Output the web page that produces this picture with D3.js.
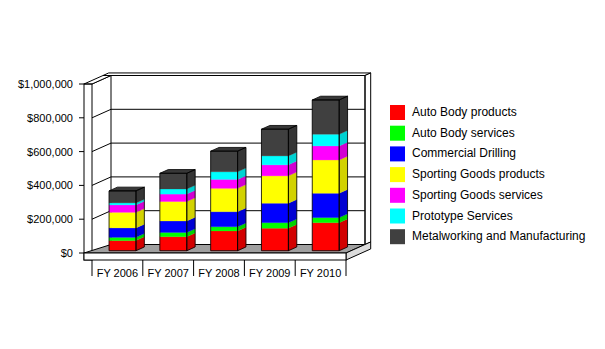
<!DOCTYPE html>
<html>
<head>
<meta charset="utf-8">
<script src="https://cdn.jsdelivr.net/npm/d3@7"></script>
<style>
  html, body { margin: 0; padding: 0; background: #fff; }
  svg { display: block; font-family: "Liberation Sans", Arial, sans-serif; }
</style>
</head>
<body>
<svg id="chart" width="605" height="349"></svg>
<script>
// ---- data ----
const categories = ["FY 2006", "FY 2007", "FY 2008", "FY 2009", "FY 2010"];
const seriesNames = ["Auto Body products", "Auto Body services", "Commercial Drilling",
  "Sporting Goods products", "Sporting Goods services", "Prototype Services",
  "Metalworking and Manufacturing"];
const seriesColors = ["#ff0000", "#00ff00", "#0000ff", "#ffff00", "#ff00ff", "#00ffff", "#404040"];
const autoBodyProducts      = [60000, 83000, 117000, 133000, 166000];
const autoBodyServices      = [19000, 25000, 25000, 33000, 30000];
const commercialDrilling    = [56000, 68000, 89000, 115000, 144000];
const sportingGoodsProducts = [92000, 115000, 138000, 162000, 197000];
const sportingGoodsServices = [44000, 44000, 53000, 65000, 83000];
const prototypeServices     = [12000, 30000, 45000, 53000, 69000];
const metalworking          = [71000, 93000, 122000, 158000, 203000];
const yTicks = [0, 200000, 400000, 600000, 800000, 1000000];

const seriesValues = [autoBodyProducts, autoBodyServices, commercialDrilling,
  sportingGoodsProducts, sportingGoodsServices, prototypeServices, metalworking];

// ---- layout ----
const svg = d3.select("#chart");
const DX = 19, DY = -8.5;          // full depth offset
const wallOuter = 84, plotL = 92, plotR = 346;
const floorY = 253, floorB = 260;

const y = d3.scaleLinear().domain([0, 1000000]).range([floorY, 84]);
const x = d3.scaleBand().domain(categories).range([plotL, plotR]);
const P = (u, v, d) => [u + d * DX, v + d * DY];
const poly = pts => pts.map(p => p.join(",")).join(" ");

const topV = y(1000000);
const g = svg.append("g");

// back wall (front face at depth 1, thickness 0.3)
const bw = 1.3;
g.append("polygon").attr("points", poly([P(wallOuter, topV, 1), P(plotR, topV, 1), P(plotR, topV, bw), P(wallOuter, topV, bw)]))
  .attr("fill", "#fff").attr("stroke", "#000").attr("stroke-width", 1);
g.append("polygon").attr("points", poly([P(plotR, topV, 1), P(plotR, topV, bw), P(plotR, floorY, bw), P(plotR, floorY, 1)]))
  .attr("fill", "#fff").attr("stroke", "#000").attr("stroke-width", 1);

// gridlines (left inner wall + back wall)
yTicks.forEach(t => {
  const a = P(plotL, y(t), 0), b = P(plotL, y(t), 1), c = P(plotR, y(t), 1);
  g.append("polyline").attr("points", poly([a, b, c]))
    .attr("fill", "none").attr("stroke", "#000").attr("stroke-width", 1);
});
// back inner left edge
g.append("line").attr("x1", P(plotL, topV, 1)[0]).attr("y1", P(plotL, topV, 1)[1])
  .attr("x2", P(plotL, floorY, 1)[0]).attr("y2", P(plotL, floorY, 1)[1]).attr("stroke", "#000");
g.append("line").attr("x1", P(plotR, topV, 1)[0]).attr("y1", P(plotR, topV, 1)[1])
  .attr("x2", P(plotR, floorY, 1)[0]).attr("y2", P(plotR, floorY, 1)[1]).attr("stroke", "#000");

// left wall: top face + front face
g.append("polygon").attr("points", poly([P(wallOuter, topV, 0), P(plotL, topV, 0), P(plotL, topV, 1), P(wallOuter, topV, 1)]))
  .attr("fill", "#fff").attr("stroke", "#000");
g.append("rect").attr("x", wallOuter).attr("y", topV).attr("width", plotL - wallOuter).attr("height", floorB - topV)
  .attr("fill", "none").attr("stroke", "#000");

// floor
g.append("polygon").attr("points", poly([P(wallOuter, floorY, 0), P(plotR, floorY, 0), P(plotR, floorY, 1), P(plotL, floorY, 1)]))
  .attr("fill", "#a0a0a0").attr("stroke", "#000");
g.append("polygon").attr("points", poly([P(plotR, floorY, 0), P(plotR, floorY, bw), P(plotR, floorB, bw), P(plotR, floorB, 0)]))
  .attr("fill", "#dcdcdc").attr("stroke", "#000");
g.append("rect").attr("x", wallOuter).attr("y", floorY).attr("width", plotR - wallOuter).attr("height", floorB - floorY)
  .attr("fill", "#fff").attr("stroke", "#000");

// bars
const d0 = 0.27, d1 = 0.71;
const barW = x.bandwidth() * 0.53;
const bars = svg.append("g");
categories.forEach((cat, ci) => {
  const u0 = x(cat) + x.bandwidth() / 2 - barW / 2, u1 = u0 + barW;
  let acc = 0;
  const bg = bars.append("g");
  seriesValues.forEach((vals, si) => {
    const v0 = y(acc), v1 = y(acc + vals[ci]);
    acc += vals[ci];
    const col = d3.color(seriesColors[si]);
    // front
    bg.append("polygon").attr("points", poly([P(u0, v1, d0), P(u1, v1, d0), P(u1, v0, d0), P(u0, v0, d0)]))
      .attr("fill", col.formatHex()).attr("stroke", col.formatHex()).attr("stroke-width", 0.3);
    // side
    const sc = col.darker(0.55).formatHex();
    bg.append("polygon").attr("points", poly([P(u1, v1, d0), P(u1, v1, d1), P(u1, v0, d1), P(u1, v0, d0)]))
      .attr("fill", sc).attr("stroke", sc).attr("stroke-width", 0.3);
  });
  const vt = y(acc), vb = y(0);
  const topCol = d3.color(seriesColors[seriesColors.length - 1]).darker(0.35).formatHex();
  bg.append("polygon").attr("points", poly([P(u0, vt, d0), P(u1, vt, d0), P(u1, vt, d1), P(u0, vt, d1)]))
    .attr("fill", topCol).attr("stroke", "#000").attr("stroke-width", 0.8);
  bg.append("polygon").attr("points", poly([P(u0, vt, d0), P(u1, vt, d0), P(u1, vb, d0), P(u0, vb, d0)]))
    .attr("fill", "none").attr("stroke", "#000").attr("stroke-width", 0.8);
  bg.append("polygon").attr("points", poly([P(u1, vt, d0), P(u1, vt, d1), P(u1, vb, d1), P(u1, vb, d0)]))
    .attr("fill", "none").attr("stroke", "#000").attr("stroke-width", 0.8);
});

// y axis ticks + labels
const fmt = d => "$" + d3.format(",")(d);
yTicks.forEach(t => {
  svg.append("line").attr("x1", wallOuter - 5).attr("x2", wallOuter).attr("y1", y(t)).attr("y2", y(t)).attr("stroke", "#000");
  svg.append("text").attr("x", 73).attr("y", y(t) + 4).attr("text-anchor", "end")
    .attr("font-size", "11px").attr("fill", "#000").text(fmt(t));
});

// x axis ticks + labels
const bounds = categories.map(c => x(c)).concat([plotR]);
bounds.forEach(b => {
  svg.append("line").attr("x1", b).attr("x2", b).attr("y1", floorB).attr("y2", 276).attr("stroke", "#000");
});
categories.forEach(c => {
  svg.append("text").attr("x", x(c) + x.bandwidth() / 2).attr("y", 276.5).attr("text-anchor", "middle")
    .attr("font-size", "11px").attr("fill", "#000").text(c);
});

// legend
const lg = svg.append("g");
seriesNames.forEach((n, i) => {
  const yy = 105 + i * 20.7;
  lg.append("rect").attr("x", 390).attr("y", yy).attr("width", 15).attr("height", 15).attr("fill", seriesColors[i]);
  lg.append("text").attr("x", 412).attr("y", yy + 11).attr("font-size", "12px").attr("fill", "#000").text(n);
});
</script>
</body>
</html>
